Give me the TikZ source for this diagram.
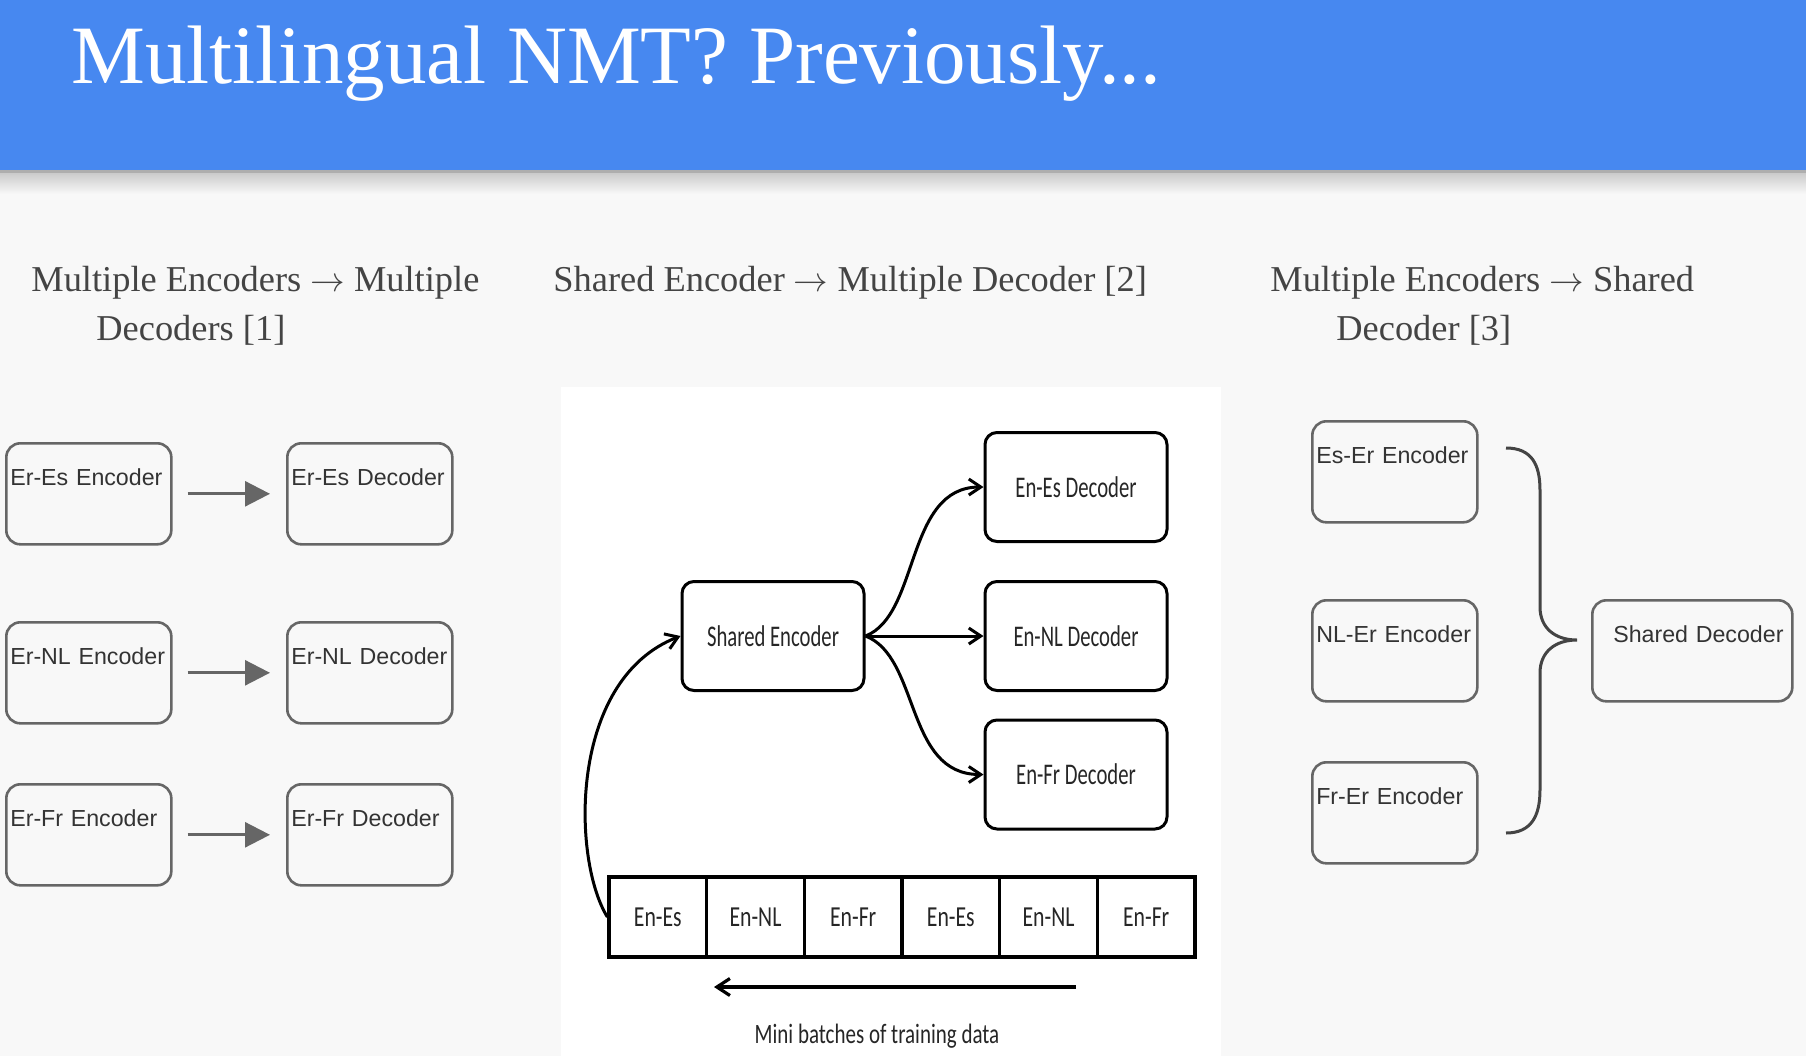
\documentclass[tikz,border=0pt]{standalone}
\usepackage{fontspec}
\setmainfont{Liberation Serif}
\newfontfamily\boxfont{Liberation Sans}
\newfontfamily\condA[FakeStretch=0.69]{Carlito}
\newfontfamily\condB[FakeStretch=0.75]{Carlito}
\usetikzlibrary{arrows.meta,calc}
\definecolor{bgc}{HTML}{F8F8F8}
\definecolor{banner}{HTML}{4788F0}
\definecolor{headc}{HTML}{444444}
\definecolor{boxline}{HTML}{666666}
\definecolor{boxtext}{HTML}{333333}
\definecolor{bracec}{HTML}{444444}
\newcommand{\harr}{$\rightarrow$}
\tikzset{
  headtext/.style={anchor=base west, inner sep=0pt, text=headc, font=\fontsize{18.2pt}{22pt}\selectfont},
  graybox/.style={draw=boxline, line width=1.3pt, rounded corners=7pt, inner xsep=2pt, inner ysep=0pt,
    text width=78.5pt, align=left, text height=21pt, text depth=29.5pt, anchor=north west,
    font=\boxfont\fontsize{11.6pt}{14pt}\selectfont, text=boxtext},
  grayarrow/.style={draw=boxline, line width=1.35pt, -{Triangle[length=12.5pt,width=12.5pt]}},
  midbox/.style={draw=black, line width=1.5pt, rounded corners=6pt, minimum width=91pt, minimum height=54.5pt,
    inner sep=0pt, font=\condA\fontsize{15pt}{18pt}\selectfont, text=black!85},
  cellbox/.style={draw=black, line width=1.6pt, minimum width=48.83pt, minimum height=40pt, inner sep=0pt,
    font=\condB\fontsize{14.5pt}{17pt}\selectfont, text=black!85},
  midarrow/.style={draw=black, line width=1.5pt, -{Straight Barb[length=6pt,width=8pt]}},
}
\begin{document}
\begin{tikzpicture}[x=0.5pt,y=0.5pt]
\useasboundingbox (0,0) rectangle (1806,-1056);
% background and banner
\fill[bgc] (0,0) rectangle (1806,-1056);
\fill[banner] (0,0) rectangle (1806,-170);
\fill[black!30!bgc] (0,-170) rectangle (1806,-173);
\shade[top color=black!18!bgc, bottom color=bgc] (0,-173) rectangle (1806,-194);
\node[anchor=base west, inner sep=0pt, text=white, font=\fontsize{41.5pt}{48pt}\selectfont] (title) at (71,-83) {Multilingual NMT? Previously...};
% headings
\node[headtext] (h1a) at (31,-291) {Multiple Encoders \harr{} Multiple};
\node[headtext] (h1b) at (96,-340) {Decoders [1]};
\node[headtext] (h2) at (553,-291) {Shared Encoder \harr{} Multiple Decoder [2]};
\node[headtext] (h3a) at (1270,-291) {Multiple Encoders \harr{} Shared};
\node[headtext] (h3b) at (1336,-340) {Decoder [3]};
% left panel
\node[graybox] (le1) at (5,-442) {Er-Es Encoder};
\node[graybox] (ld1) at (286,-442) {Er-Es Decoder};
\node[graybox] (le2) at (5,-621) {Er-NL Encoder};
\node[graybox] (ld2) at (286,-621) {Er-NL Decoder};
\node[graybox] (le3) at (5,-783) {Er-Fr Encoder};
\node[graybox] (ld3) at (286,-783) {Er-Fr Decoder};
\draw[grayarrow] ($(le1.east)+(15,0)$) -- ($(ld1.west)+(-16,0)$);
\draw[grayarrow] ($(le2.east)+(15,0)$) -- ($(ld2.west)+(-16,0)$);
\draw[grayarrow] ($(le3.east)+(15,0)$) -- ($(ld3.west)+(-16,0)$);
% middle panel
\fill[white] (561,-387) rectangle (1221,-1056);
\node[midbox] (enc) at (773,-636) {Shared Encoder};
\node[midbox] (d1) at (1076,-487) {En-Es Decoder};
\node[midbox] (d2) at (1076,-636) {En-NL Decoder};
\node[midbox] (d3) at (1076,-774.5) {En-Fr Decoder};
\draw[midarrow] (enc.east) .. controls (920,-615) and (905,-487) .. (d1.west);
\draw[midarrow] (enc.east) -- (d2.west);
\draw[midarrow] (enc.east) .. controls (920,-657) and (905,-774.5) .. (d3.west);
\node[cellbox] (c1) at (657.8,-917) {En-Es};
\node[cellbox] (c2) at (755.5,-917) {En-NL};
\node[cellbox] (c3) at (853.2,-917) {En-Fr};
\node[cellbox] (c4) at (950.8,-917) {En-Es};
\node[cellbox] (c5) at (1048.5,-917) {En-NL};
\node[cellbox] (c6) at (1146.2,-917) {En-Fr};
\draw[midarrow] (c1.west) .. controls (572,-860) and (568,-680) .. (enc.west);
\coordinate (bs) at (1076,-987);
\coordinate (be) at (714,-987);
\draw[draw=black, line width=1.6pt, -{Straight Barb[length=6.5pt,width=8.5pt]}] (bs) -- (be);
\node[anchor=base, inner sep=0pt, text=black!85, font=\condB\fontsize{14pt}{17pt}\selectfont] (cap) at (877,-1043) {Mini batches of training data};
% right panel
\node[graybox] (re1) at (1311,-420) {Es-Er Encoder};
\node[graybox] (re2) at (1311,-599) {NL-Er Encoder};
\node[graybox] (re3) at (1311,-761) {Fr-Er Encoder};
\node[graybox, text width=96pt] (rd) at (1591,-599) {\hspace*{8.5pt}Shared Decoder};
\draw[draw=bracec, line width=1.5pt]
  (1506,-448) .. controls (1532,-448) and (1540,-465) .. (1540,-490)
  -- (1540,-607) .. controls (1540,-628) and (1555,-640) .. (1577,-640)
  .. controls (1555,-640) and (1540,-652) .. (1540,-673)
  -- (1540,-790) .. controls (1540,-815) and (1532,-833) .. (1506,-833);
\end{tikzpicture}
\end{document}
